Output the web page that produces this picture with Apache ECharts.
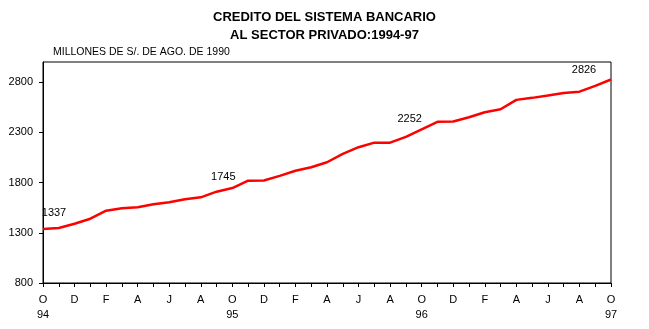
<!DOCTYPE html>
<html>
<head>
<meta charset="utf-8">
<script src="https://cdn.jsdelivr.net/npm/echarts@6/dist/echarts.min.js"></script>
<style>
html,body{margin:0;padding:0;background:#fff;}
#c{width:649px;height:329px;}
</style>
</head>
<body>
<div id="c"></div>
<script>
// Monthly categories Oct 1994 - Oct 1997 (Spanish month initials)
var months = ['O','N','D','E','F','M','A','M','J','J','A','S',
              'O','N','D','E','F','M','A','M','J','J','A','S',
              'O','N','D','E','F','M','A','M','J','J','A','S','O'];
var years = {0:'94', 12:'95', 24:'96', 36:'97'};
// Credit to private sector, millions of S/. of Aug 1990
var values = [1337,1348,1390,1440,1520,1544,1554,1584,1604,1634,1653,1709,
              1745,1819,1820,1866,1918,1952,2002,2085,2152,2197,2197,2255,
              2330,2405,2407,2450,2500,2530,2623,2643,2666,2692,2705,2762,2826];
var labelIndex = [0, 12, 24, 36];
var labelText = ['1337', '1745', '2252', '2826'];
var labelOffset = [[11,-6],[-9,-1],[-12,0],[-27,1]];
var yTicks = [800, 1300, 1800, 2300, 2800];

var cats = months.map(function(m, i){ return String(i); });
var data = values.map(function(v, i){
  var k = labelIndex.indexOf(i);
  if (k < 0) return v;
  return {value: v, label: {show: true, position: 'top', offset: labelOffset[k],
          formatter: labelText[k], color: '#000', fontSize: 11,
          fontFamily: 'Liberation Sans'}};
});

var chart = echarts.init(document.getElementById('c'));
chart.setOption({
  backgroundColor: '#fff',
  animation: false,
  title: [{
    text: 'CREDITO DEL SISTEMA BANCARIO\nAL SECTOR PRIVADO:1994-97',
    left: 'center', top: 8, padding: 0,
    textStyle: {fontFamily: 'Liberation Sans', fontWeight: 'bold', fontSize: 13,
                lineHeight: 18, color: '#000'}
  },{
    text: 'MILLONES DE S/. DE AGO. DE 1990',
    left: 53, top: 47, padding: 0,
    textStyle: {fontFamily: 'Liberation Sans', fontWeight: 'normal', fontSize: 10.5, color: '#000'}
  }],
  grid: {left: 43, right: 38, top: 62, bottom: 46, show: true,
         borderColor: '#000', borderWidth: 1, backgroundColor: 'transparent'},
  xAxis: {
    type: 'category', data: cats, boundaryGap: false,
    axisLine: {lineStyle: {color: '#000', width: 1}},
    axisTick: {show: true, interval: 0, length: 4, lineStyle: {color: '#000'}},
    axisLabel: {interval: 1, margin: 9, color: '#000', fontSize: 11,
      fontFamily: 'Liberation Sans', lineHeight: 15,
      formatter: function(v){ var i = +v; return months[i] + (years[i] ? '\n' + years[i] : ''); }},
    splitLine: {show: false}
  },
  yAxis: {
    type: 'value', min: 800, max: 3000, interval: 500,
    axisLine: {show: true, lineStyle: {color: '#000', width: 1}},
    axisTick: {show: true, length: 4, lineStyle: {color: '#000'}},
    axisLabel: {margin: 10, color: '#000', fontSize: 11, fontFamily: 'Liberation Sans',
      showMaxLabel: false,
      formatter: function(v){ return yTicks.indexOf(v) >= 0 ? String(v) : ''; }},
    splitLine: {show: false}
  },
  series: [{
    type: 'line', data: data, showSymbol: true, symbol: 'circle', symbolSize: 0,
    label: {show: false},
    lineStyle: {color: '#ff0000', width: 2.5},
    itemStyle: {color: '#ff0000'}
  }]
});
</script>
</body>
</html>
